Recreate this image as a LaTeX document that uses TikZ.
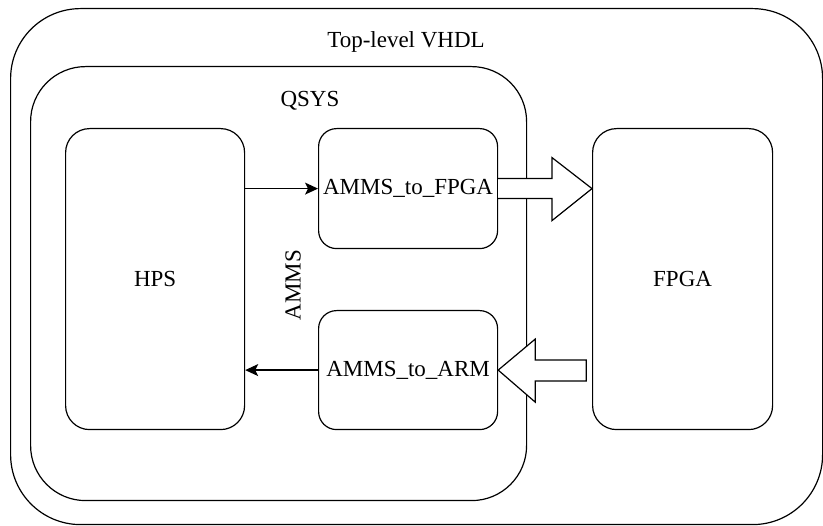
\documentclass[tikz,border=0pt]{standalone}
\usepackage{fontspec}
\setmainfont{Liberation Serif}
\usetikzlibrary{arrows.meta,calc}
\begin{document}
\begin{tikzpicture}[x=1pt,y=-1pt,
  box/.style={draw=black, line width=1.2pt, rounded corners=#1, inner sep=0pt, anchor=north west,
              font=\fontsize{23}{28}\selectfont},
  lbl/.style={font=\fontsize{23}{28}\selectfont, inner sep=0pt},
  conn/.style={draw=black, line width=1.2pt, -{Stealth[length=13pt,width=12pt,inset=3pt]}},
  bigarrow/.style={draw=black, line width=1.2pt, fill=white}]
\useasboundingbox (0,0) rectangle (823,526);
\node[box=70, minimum width=812pt, minimum height=516pt] (top) at (10,8) {};
\node[box=55, minimum width=496pt, minimum height=434pt] (qsys) at (30,66) {};
\node[box=24, minimum width=179pt, minimum height=301pt] (hps) at (65,128) {HPS};
\node[box=18, minimum width=179pt, minimum height=120pt] (f2g) at (318,128) {AMMS\_to\_FPGA};
\node[box=18, minimum width=179pt, minimum height=119pt] (a2a) at (318,310) {AMMS\_to\_ARM};
\node[box=24, minimum width=180pt, minimum height=301pt] (fpga) at (592,128) {FPGA};
\node[lbl] (toplbl) at (406,42) {Top-level VHDL};
\node[lbl] (qsyslbl) at (310,101) {QSYS};
\node[lbl, rotate=90] (ammslbl) at (293,285) {AMMS};
\draw[conn] (hps.east |- f2g.west) -- (f2g.west);
\draw[conn] (a2a.west) -- (hps.east |- a2a.west);
\coordinate (t1) at (f2g.east);
\coordinate (t2) at (fpga.west |- f2g.east);
\draw[bigarrow] ($(t1)+(0,-10)$) -- ($(t2)+(-40,-10)$) -- ($(t2)+(-40,-31)$) -- (t2)
  -- ($(t2)+(-40,32)$) -- ($(t2)+(-40,10)$) -- ($(t1)+(0,10)$);
\coordinate (b1) at (a2a.east);
\draw[bigarrow] (b1) -- ($(b1)+(37,-31)$) -- ($(b1)+(37,-10)$) -- ($(b1)+(88,-10)$)
  -- ($(b1)+(88,11)$) -- ($(b1)+(37,11)$) -- ($(b1)+(37,32)$) -- cycle;
\end{tikzpicture}
\end{document}
